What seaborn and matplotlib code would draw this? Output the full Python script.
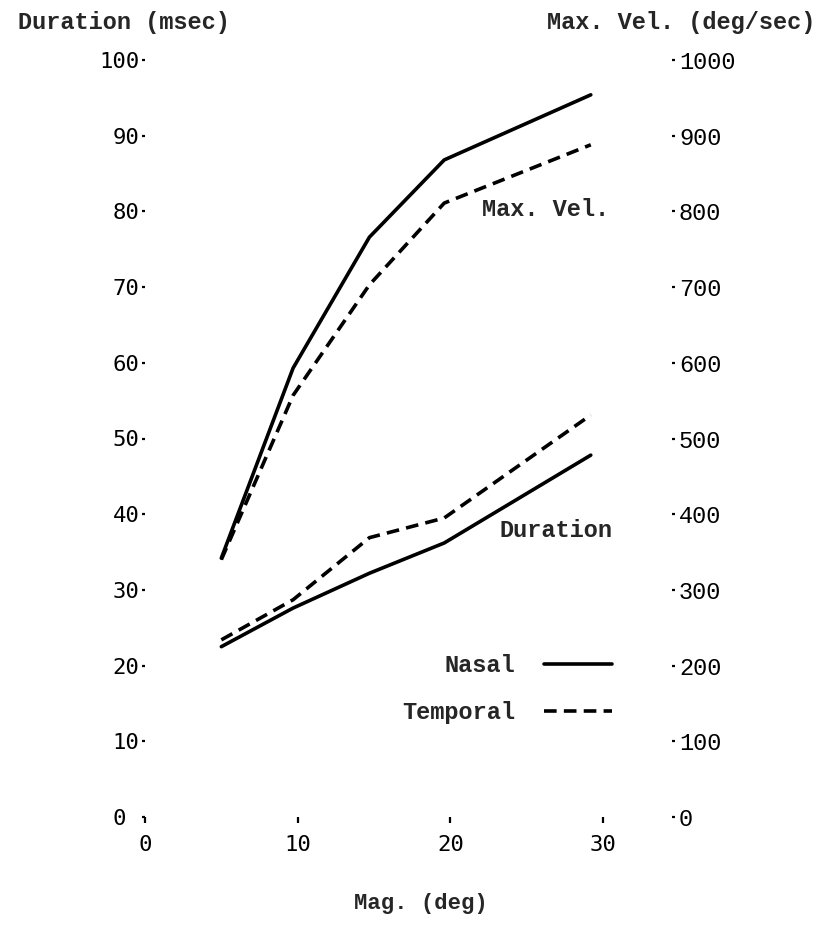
import matplotlib
matplotlib.use('Agg')
import matplotlib.pyplot as plt
from matplotlib.lines import Line2D
import seaborn as sns
import pandas as pd

# saccade magnitude (deg)
magnitude = [5, 9.7, 14.7, 19.6, 29.2]

# duration (msec)
dur_nasal = [22.5, 27.6, 32.2, 36.2, 47.8]
dur_temporal = [23.4, 28.7, 36.9, 39.5, 53.1]

# max. velocity (deg/sec)
vel_nasal = [342, 593, 766, 868, 954]
vel_temporal = [340, 557, 703, 811, 888]

x_ticks = [0, 10, 20, 30]
dur_ticks = [0, 10, 20, 30, 40, 50, 60, 70, 80, 90, 100]
dur_labels = ['0 ', '10', '20', '30', '40', '50', '60', '70', '80', '90', '100']
vel_ticks = [0, 100, 200, 300, 400, 500, 600, 700, 800, 900, 1000]

sides = ['Nasal', 'Temporal']


def long_form(nasal, temporal):
    n = len(magnitude)
    return pd.DataFrame({'mag': magnitude * 2,
                         'value': nasal + temporal,
                         'side': [sides[0]] * n + [sides[1]] * n})


df_dur = long_form(dur_nasal, dur_temporal)
df_vel = long_form(vel_nasal, vel_temporal)

sns.set_style('white')
plt.rcParams['font.family'] = ['Liberation Mono', 'DejaVu Sans Mono']
plt.rcParams['font.size'] = 17

W, H = 819, 925
fig = plt.figure(figsize=(W / 100, H / 100), dpi=100)
# axes box in pixels: x 0..30 -> 145..603, y 0..100 -> 817..60
ax = fig.add_axes([145 / W, 1 - 817 / H, 458 / W, 757 / H])
ax2 = ax.twinx()

dashes = {'Nasal': '', 'Temporal': (3.5, 2)}
sns.lineplot(data=df_dur, x='mag', y='value', style='side', dashes=dashes,
             color='black', lw=2.6, estimator=None, legend=False, ax=ax)
sns.lineplot(data=df_vel, x='mag', y='value', style='side', dashes=dashes,
             color='black', lw=2.6, estimator=None, legend=False, ax=ax2)

ax.set_xlim(0, 30)
ax.set_ylim(0, 100)
ax2.set_ylim(0, 1000)

for a in (ax, ax2):
    for s in a.spines.values():
        s.set_visible(False)

tick_font = {'family': 'DejaVu Sans Mono', 'size': 16}
ax.set_xticks(x_ticks)
ax.set_xticklabels([str(t) for t in x_ticks], fontdict=tick_font)
ax.set_yticks(dur_ticks)
ax.set_yticklabels(dur_labels, fontdict=tick_font)
ax2.set_yticks(vel_ticks)
ax2.set_yticklabels([str(t) for t in vel_ticks], fontdict=tick_font)

ax.tick_params(axis='x', direction='out', length=4, width=1.6, pad=9,
               colors='black', bottom=True)
ax.tick_params(axis='y', direction='out', length=2, width=1.6, pad=2,
               colors='black', left=True)
ax2.tick_params(axis='y', direction='out', length=2, width=1.6, pad=3,
                colors='black', right=True)
ax2.spines['right'].set_position(('axes', (672 - 145) / 458))

ax.set_xlabel('Mag. (deg)', fontweight='bold', fontsize=16)
ax.xaxis.set_label_coords((421 - 145) / 458, -0.100)
ax.set_ylabel('Duration (msec)', fontweight='bold', fontsize=17,
              rotation=0, ha='left', va='center')
ax.yaxis.set_label_coords((18 - 145) / 458, (817 - 23) / 757)
ax2.set_ylabel('Max. Vel. (deg/sec)', fontweight='bold', fontsize=17,
               rotation=0, ha='right', va='center')
ax2.yaxis.set_label_coords((815 - 145) / 458, (817 - 23) / 757)

ax.text(22.1, 80.2, 'Max. Vel.', fontweight='bold', fontsize=17, va='center')
ax.text(23.2, 37.9, 'Duration', fontweight='bold', fontsize=17, va='center')

handles = [Line2D([], [], color='black', lw=2.6),
           Line2D([], [], color='black', lw=2.6, dashes=(3.5, 2))]
fig.legend(handles, sides, loc='center right', markerfirst=False,
           frameon=False, bbox_to_anchor=(612 / W, 1 - 689 / H),
           borderaxespad=0, borderpad=0, handlelength=2.9,
           handletextpad=1.2, labelspacing=1.0,
           prop={'weight': 'bold', 'size': 17})

fig.savefig('out.png', dpi=100, facecolor='white')
